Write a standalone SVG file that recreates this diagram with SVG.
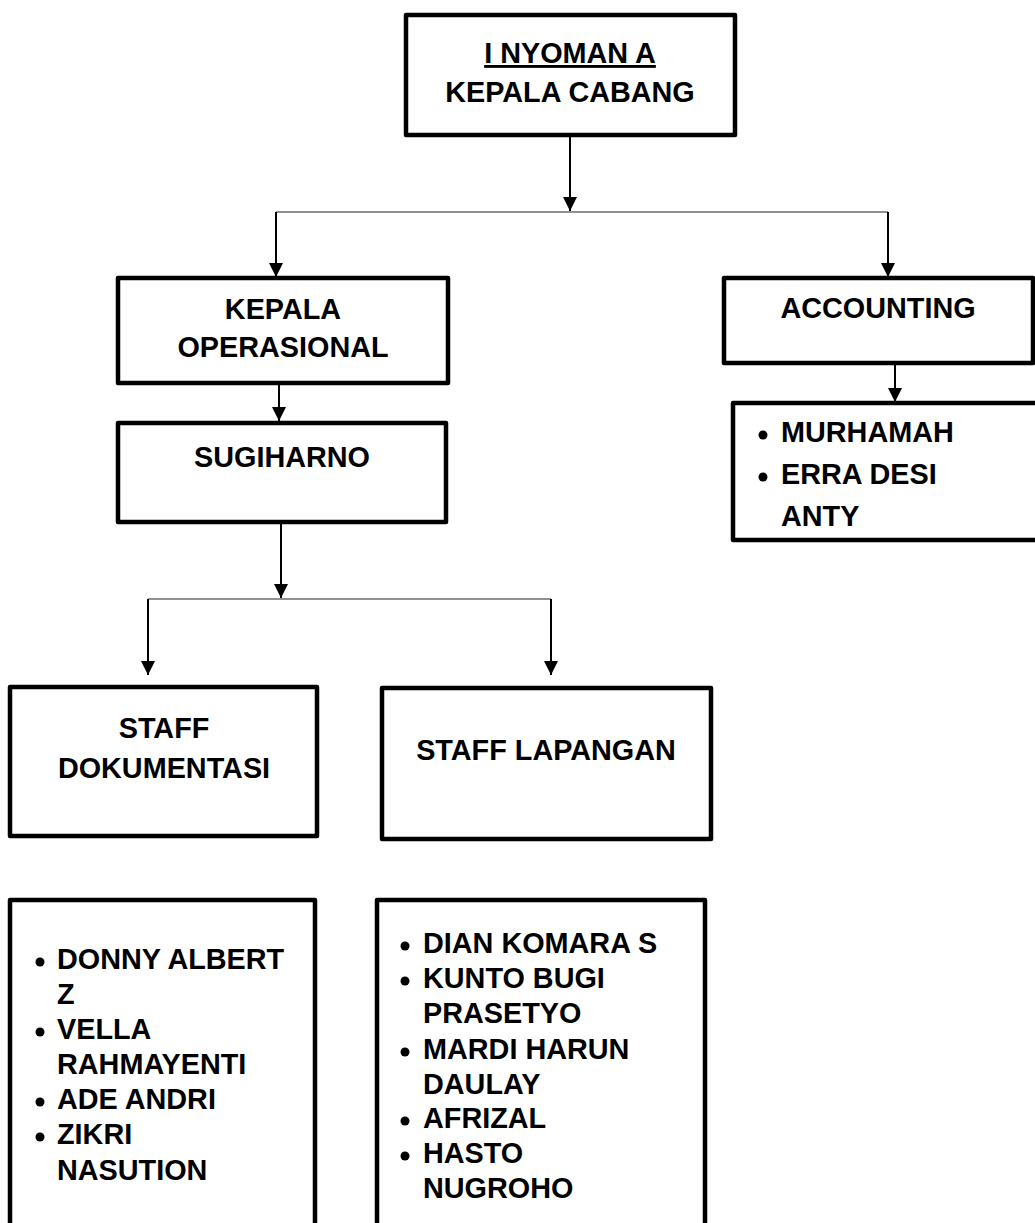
<svg xmlns="http://www.w3.org/2000/svg" width="1035" height="1223" viewBox="0 0 1035 1223">
<style>
.box{fill:#fff;stroke:#000;stroke-width:4.5;stroke-linejoin:round}
.t{font-family:"Liberation Sans",Arial,sans-serif;font-weight:bold;font-size:28.8px;fill:#000}
.c{text-anchor:middle}
.v{stroke:#000;stroke-width:2;fill:none}
.h{stroke:#222;stroke-width:1.2;fill:none}
.b{fill:#000}
</style>
<defs>
<marker id="ah" viewBox="0 0 10 10" refX="10" refY="5" markerUnits="userSpaceOnUse" markerWidth="15" markerHeight="14" orient="auto">
<path d="M0,0 L10,5 L0,10 z" fill="#000"/>
</marker>
</defs>
<rect width="1035" height="1223" fill="#fff"/>
<g id="connectors">
<line class="v" x1="570" y1="135" x2="570" y2="211" marker-end="url(#ah)"/>
<polyline class="h" points="276,212 888,212"/>
<line class="v" x1="276" y1="212" x2="276" y2="277" marker-end="url(#ah)"/>
<line class="v" x1="888" y1="212" x2="888" y2="277" marker-end="url(#ah)"/>
<line class="v" x1="279" y1="383" x2="279" y2="421" marker-end="url(#ah)"/>
<line class="v" x1="895" y1="363" x2="895" y2="402" marker-end="url(#ah)"/>
<line class="v" x1="281" y1="522" x2="281" y2="598" marker-end="url(#ah)"/>
<polyline class="h" points="148,599 551,599"/>
<line class="v" x1="148" y1="599" x2="148" y2="675" marker-end="url(#ah)"/>
<line class="v" x1="551" y1="599" x2="551" y2="675" marker-end="url(#ah)"/>
</g>
<g id="kepala-cabang">
<rect class="box" x="406" y="15" width="329" height="120"/>
<text class="t c" x="570" y="63" text-decoration="underline">I NYOMAN A</text>
<text class="t c" x="570" y="102">KEPALA CABANG</text>
</g>
<g id="kepala-operasional">
<rect class="box" x="118" y="278" width="330" height="105"/>
<text class="t c" x="283" y="319">KEPALA</text>
<text class="t c" x="283" y="357">OPERASIONAL</text>
</g>
<g id="sugiharno">
<rect class="box" x="118" y="423" width="328" height="99"/>
<text class="t c" x="282" y="467">SUGIHARNO</text>
</g>
<g id="accounting">
<rect class="box" x="724" y="278" width="309" height="85"/>
<text class="t c" x="878" y="318">ACCOUNTING</text>
</g>
<g id="accounting-staff">
<rect class="box" x="733" y="403" width="320" height="137"/>
<circle class="b" cx="763" cy="435" r="4.5"/>
<text class="t" x="781" y="442">MURHAMAH</text>
<circle class="b" cx="763" cy="477" r="4.5"/>
<text class="t" x="781" y="484">ERRA DESI</text>
<text class="t" x="781" y="526">ANTY</text>
</g>
<g id="staff-dokumentasi">
<rect class="box" x="10" y="687" width="307" height="149"/>
<text class="t c" x="164" y="738">STAFF</text>
<text class="t c" x="164" y="778">DOKUMENTASI</text>
</g>
<g id="staff-lapangan">
<rect class="box" x="382" y="688" width="329" height="151"/>
<text class="t c" x="546" y="760">STAFF LAPANGAN</text>
</g>
<g id="dokumentasi-staff">
<rect class="box" x="10" y="900" width="305" height="340"/>
<circle class="b" cx="40" cy="962" r="4.5"/>
<text class="t" x="57" y="969">DONNY ALBERT</text>
<text class="t" x="57" y="1004">Z</text>
<circle class="b" cx="40" cy="1032" r="4.5"/>
<text class="t" x="57" y="1039">VELLA</text>
<text class="t" x="57" y="1074">RAHMAYENTI</text>
<circle class="b" cx="40" cy="1102" r="4.5"/>
<text class="t" x="57" y="1109">ADE ANDRI</text>
<circle class="b" cx="40" cy="1137" r="4.5"/>
<text class="t" x="57" y="1144">ZIKRI</text>
<text class="t" x="57" y="1180">NASUTION</text>
</g>
<g id="lapangan-staff">
<rect class="box" x="377" y="900" width="328" height="340"/>
<circle class="b" cx="405" cy="946" r="4.5"/>
<text class="t" x="423" y="953">DIAN KOMARA S</text>
<circle class="b" cx="405" cy="981" r="4.5"/>
<text class="t" x="423" y="988">KUNTO BUGI</text>
<text class="t" x="423" y="1023">PRASETYO</text>
<circle class="b" cx="405" cy="1052" r="4.5"/>
<text class="t" x="423" y="1059">MARDI HARUN</text>
<text class="t" x="423" y="1094">DAULAY</text>
<circle class="b" cx="405" cy="1121" r="4.5"/>
<text class="t" x="423" y="1128">AFRIZAL</text>
<circle class="b" cx="405" cy="1156" r="4.5"/>
<text class="t" x="423" y="1163">HASTO</text>
<text class="t" x="423" y="1198">NUGROHO</text>
</g>
</svg>
